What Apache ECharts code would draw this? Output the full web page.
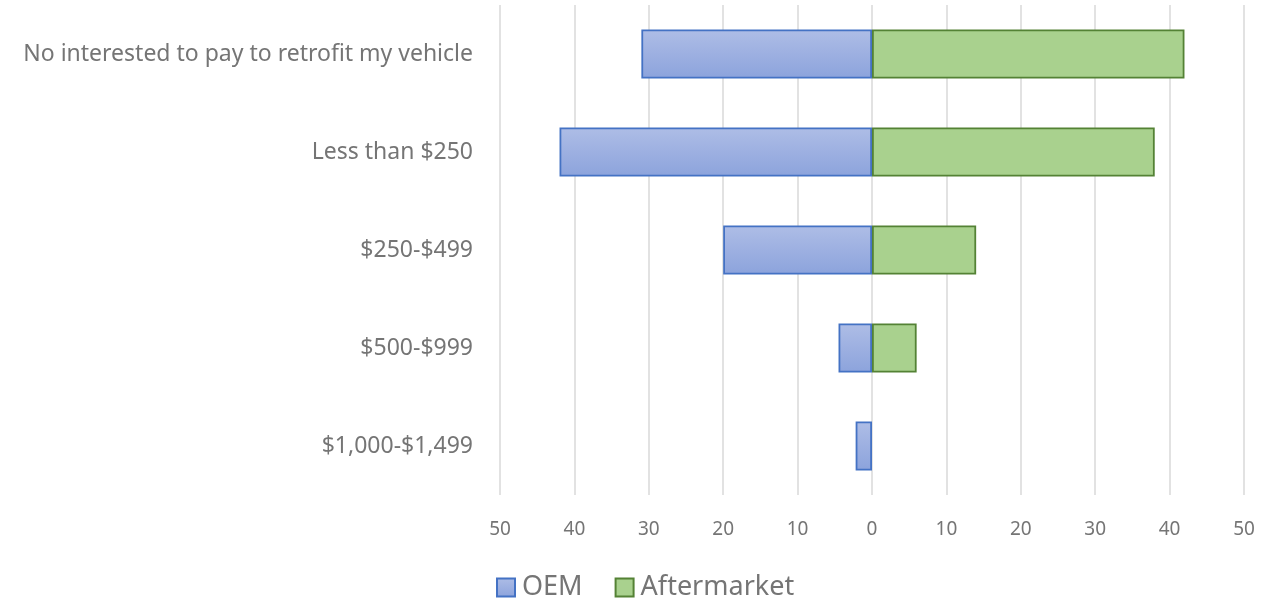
<!DOCTYPE html>
<html>
<head>
<meta charset="utf-8">
<script src="https://cdn.jsdelivr.net/npm/echarts@6/dist/echarts.min.js"></script>
<style>
  html, body { margin: 0; padding: 0; background: #fff; }
  #chart { width: 1286px; height: 601px; }
</style>
</head>
<body>
<div id="chart"></div>
<script>
// categories top to bottom
const categories = [
  'No interested to pay to retrofit my vehicle',
  'Less than $250',
  '$250-$499',
  '$500-$999',
  '$1,000-$1,499'
]
// OEM is drawn on the left, so stored positive and flipped when plotted
const oemValues = [31, 42, 20, 4.5, 2.2]
const aftermarketValues = [42, 38, 14, 6, 0]
const seriesNames = ['OEM', 'Aftermarket']

const font = '"Noto Sans", "Open Sans", sans-serif'
const textColor = '#757575'

const myChart = echarts.init(document.getElementById('chart'))

const option = {
  animation: false,
  grid: {
    left: 500,
    right: 42,
    top: 5,
    bottom: 106
  },
  legend: {
    data: seriesNames,
    left: 491,
    top: 569,
    icon: 'rect',
    itemWidth: 18,
    itemHeight: 18,
    itemGap: 32,
    textStyle: {
      fontFamily: font,
      fontSize: 27,
      color: textColor,
      padding: [0, 0, 0, 2]
    }
  },
  xAxis: {
    type: 'value',
    min: -50,
    max: 50,
    interval: 10,
    axisLine: { show: false },
    axisTick: { show: false },
    axisLabel: {
      margin: 25,
      fontFamily: font,
      fontSize: 19,
      color: textColor,
      formatter: (v) => Math.abs(v)
    },
    splitLine: {
      lineStyle: { color: '#d9d9d9', width: 1.5 }
    }
  },
  yAxis: {
    type: 'category',
    data: categories,
    inverse: true,
    axisLine: { show: false },
    axisTick: { show: false },
    axisLabel: {
      margin: 27,
      fontFamily: font,
      fontSize: 23,
      color: textColor
    }
  },
  series: [
    {
      name: 'OEM',
      type: 'bar',
      stack: 'total',
      barCategoryGap: '50%',
      data: oemValues.map(v => -v),
      itemStyle: {
        color: new echarts.graphic.LinearGradient(0, 0, 0, 1, [
          { offset: 0, color: '#aebde6' },
          { offset: 1, color: '#8ca3dc' }
        ]),
        borderColor: '#4472c4',
        borderWidth: 1.8
      }
    },
    {
      name: 'Aftermarket',
      type: 'bar',
      stack: 'total',
      barCategoryGap: '50%',
      // a zero bar would still draw its border, so leave it empty
      data: aftermarketValues.map(v => (v === 0 ? '-' : v)),
      itemStyle: {
        color: '#a9d18e',
        borderColor: '#548235',
        borderWidth: 1.8
      }
    }
  ]
}

myChart.setOption(option)

window.addEventListener('resize', () => {
  myChart.resize()
})
</script>
</body>
</html>
